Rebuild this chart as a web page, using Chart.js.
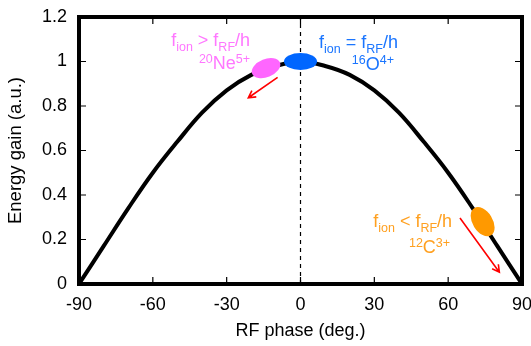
<!DOCTYPE html>
<html>
<head>
<meta charset="utf-8">
<script src="https://cdn.jsdelivr.net/npm/chart.js@4.4.1/dist/chart.umd.min.js"></script>
<style>
  html, body { margin: 0; padding: 0; background: #fff; }
  #wrap { width: 531px; height: 346px; }
</style>
</head>
<body>
<div id="wrap"><canvas id="chart"></canvas></div>
<script>
{
    // curve, every 10 deg
    const PHASE = [-90, -80, -70, -60, -50, -40, -30, -20, -10, 0, 10, 20, 30, 40, 50, 60, 70, 80, 90];
    const GAIN = [0, 0.17, 0.34, 0.5, 0.64, 0.77, 0.87, 0.94, 0.98, 1, 0.98, 0.94, 0.87, 0.77, 0.64, 0.5, 0.34, 0.17, 0];

    // ion bunches: Ne, O, C
    const ION_NAME = ['Ne', 'O', 'C'];
    const ION_MASS = ['20', '16', '12'];
    const ION_CHARGE = ['5+', '4+', '3+'];
    const ION_RELATION = ['>', '=', '<'];
    const ION_PHASE = [-14, 0, 74];
    const ION_GAIN = [0.97, 1.0, 0.28];

    // label anchors (right edge of text), line 1 and line 2 baselines
    const LABEL_PHASE = [-20.5, 39.6, 61.6];
    const LABEL_GAIN_1 = [1.070, 1.061, 0.256];
    const LABEL_GAIN_2 = [0.966, 0.962, 0.139];

    // drift arrows (Ne and C)
    const ARROW_FROM_PHASE = [-9.3, 64.8];
    const ARROW_FROM_GAIN = [0.929, 0.297];
    const ARROW_TO_PHASE = [-21.2, 80.8];
    const ARROW_TO_GAIN = [0.837, 0.053];

    const X_MIN = -90, X_MAX = 90, X_STEP = 30;
    const Y_MIN = 0, Y_MAX = 1.2, Y_STEP = 0.2;

    // styles
    const ION_COLOR = ['#ff66ff', '#0066ff', '#ff9900'];
    const ION_TEXT_COLOR = ['#ff77ff', '#1a75ff', '#ffa020'];
    const LINE2_SHIFT = [0, -4, -2];
    const ELLIPSE = [
        { rx: 15, ry: 9, rot: -22 },
        { rx: 16.5, ry: 8.5, rot: 0 },
        { rx: 16, ry: 10, rot: 58 }
    ];
    const FONT = '"Liberation Sans", Arial, sans-serif';

    const px = (chart, x, y) => [chart.scales.x.getPixelForValue(x), chart.scales.y.getPixelForValue(y)];

    const drawRich = (ctx, parts, xRight, yBase, color) => {
        const fontOf = k => (k === 'n' ? '18px ' : '12.5px ') + FONT;
        let w = 0;
        parts.forEach(([t, k]) => { ctx.font = fontOf(k); w += ctx.measureText(t).width; });
        let x = xRight - w;
        ctx.fillStyle = color;
        ctx.textBaseline = 'alphabetic';
        ctx.textAlign = 'left';
        parts.forEach(([t, k]) => {
            ctx.font = fontOf(k);
            const dy = k === 'sub' ? 5 : (k === 'sup' ? -6 : 0);
            ctx.fillText(t, x, yBase + dy);
            x += ctx.measureText(t).width;
        });
    };

    const noOverhang = s => { s.paddingLeft = 0; s.paddingRight = 0; s.paddingTop = 0; s.paddingBottom = 0; };

    const overlay = {
        id: 'overlay',
        afterDatasetsDraw(chart) {
            const ctx = chart.ctx;
            ctx.save();
            // bunches
            ION_PHASE.forEach((p, i) => {
                const [cx, cy] = px(chart, p, ION_GAIN[i]);
                const e = ELLIPSE[i];
                ctx.beginPath();
                ctx.ellipse(cx, cy, e.rx, e.ry, e.rot * Math.PI / 180, 0, Math.PI * 2);
                ctx.fillStyle = ION_COLOR[i];
                ctx.fill();
            });
            // arrows
            ctx.strokeStyle = '#ff0000';
            ctx.lineWidth = 1.6;
            ARROW_FROM_PHASE.forEach((p, i) => {
                const [x0, y0] = px(chart, p, ARROW_FROM_GAIN[i]);
                const [x1, y1] = px(chart, ARROW_TO_PHASE[i], ARROW_TO_GAIN[i]);
                const a = Math.atan2(y1 - y0, x1 - x0);
                const h = 8, s = 0.5;
                ctx.beginPath();
                ctx.moveTo(x0, y0);
                ctx.lineTo(x1, y1);
                ctx.moveTo(x1 - h * Math.cos(a - s), y1 - h * Math.sin(a - s));
                ctx.lineTo(x1, y1);
                ctx.lineTo(x1 - h * Math.cos(a + s), y1 - h * Math.sin(a + s));
                ctx.stroke();
            });
            // labels
            ION_NAME.forEach((n, i) => {
                const [xr, y1] = px(chart, LABEL_PHASE[i], LABEL_GAIN_1[i]);
                const [, y2] = px(chart, LABEL_PHASE[i], LABEL_GAIN_2[i]);
                drawRich(ctx, [['f', 'n'], ['ion', 'sub'], [' ' + ION_RELATION[i] + ' f', 'n'], ['RF', 'sub'], ['/h', 'n']], xr, y1, ION_TEXT_COLOR[i]);
                drawRich(ctx, [[ION_MASS[i], 'sup'], [n, 'n'], [ION_CHARGE[i], 'sup']], xr + LINE2_SHIFT[i], y2, ION_TEXT_COLOR[i]);
            });
            ctx.restore();
        },
        afterDraw(chart) {
            const ctx = chart.ctx;
            const { left, right, top, bottom } = chart.chartArea;
            ctx.save();
            ctx.strokeStyle = '#000';
            ctx.lineWidth = 1.2;
            ctx.beginPath();
            chart.scales.x.ticks.forEach(t => {
                const x = chart.scales.x.getPixelForValue(t.value);
                ctx.moveTo(x, bottom); ctx.lineTo(x, bottom - 7);
                ctx.moveTo(x, top); ctx.lineTo(x, top + 7);
            });
            chart.scales.y.ticks.forEach(t => {
                const y = chart.scales.y.getPixelForValue(t.value);
                ctx.moveTo(left, y); ctx.lineTo(left + 7, y);
                ctx.moveTo(right, y); ctx.lineTo(right - 7, y);
            });
            ctx.stroke();
            ctx.lineWidth = 4;
            ctx.strokeRect(left, top, right - left, bottom - top);
            ctx.restore();
        }
    };

    document.addEventListener('DOMContentLoaded', () => {
        new Chart(document.getElementById('chart'), {
            type: 'scatter',
            data: {
                datasets: [
                    {
                        data: [{ x: 0, y: Y_MIN }, { x: 0, y: Y_MAX }],
                        showLine: true,
                        borderColor: '#000',
                        borderWidth: 1.2,
                        borderDash: [4, 4],
                        pointRadius: 0
                    },
                    {
                        data: PHASE.map((p, i) => ({ x: p, y: GAIN[i] })),
                        showLine: true,
                        borderColor: '#000',
                        borderWidth: 4,
                        tension: 0.4,
                        pointRadius: 0
                    }
                ]
            },
            options: {
                responsive: true,
                maintainAspectRatio: false,
                animation: false,
                events: [],
                layout: { padding: { top: 17, right: 9, bottom: 4, left: 0 } },
                plugins: { legend: { display: false }, tooltip: { enabled: false } },
                scales: {
                    x: {
                        type: 'linear',
                        min: X_MIN, max: X_MAX,
                        afterFit: s => { s.height = 58; noOverhang(s); },
                        grid: { display: false, drawTicks: false },
                        border: { display: false },
                        ticks: { stepSize: X_STEP, padding: 10, color: '#000', font: { family: FONT, size: 18 } },
                        title: { display: true, text: 'RF phase (deg.)', color: '#000', padding: 0, font: { family: FONT, size: 18 } }
                    },
                    y: {
                        min: Y_MIN, max: Y_MAX,
                        afterFit: s => { s.width = 79; noOverhang(s); },
                        grid: { display: false, drawTicks: false },
                        border: { display: false },
                        ticks: {
                            stepSize: Y_STEP, padding: 12, color: '#000', font: { family: FONT, size: 18 },
                            callback: v => String(+v.toFixed(1))
                        },
                        title: { display: true, text: 'Energy gain (a.u.)', color: '#000', padding: 5, font: { family: FONT, size: 18.5 } }
                    }
                }
            },
            plugins: [overlay]
        });
    });
}
</script>
</body>
</html>
